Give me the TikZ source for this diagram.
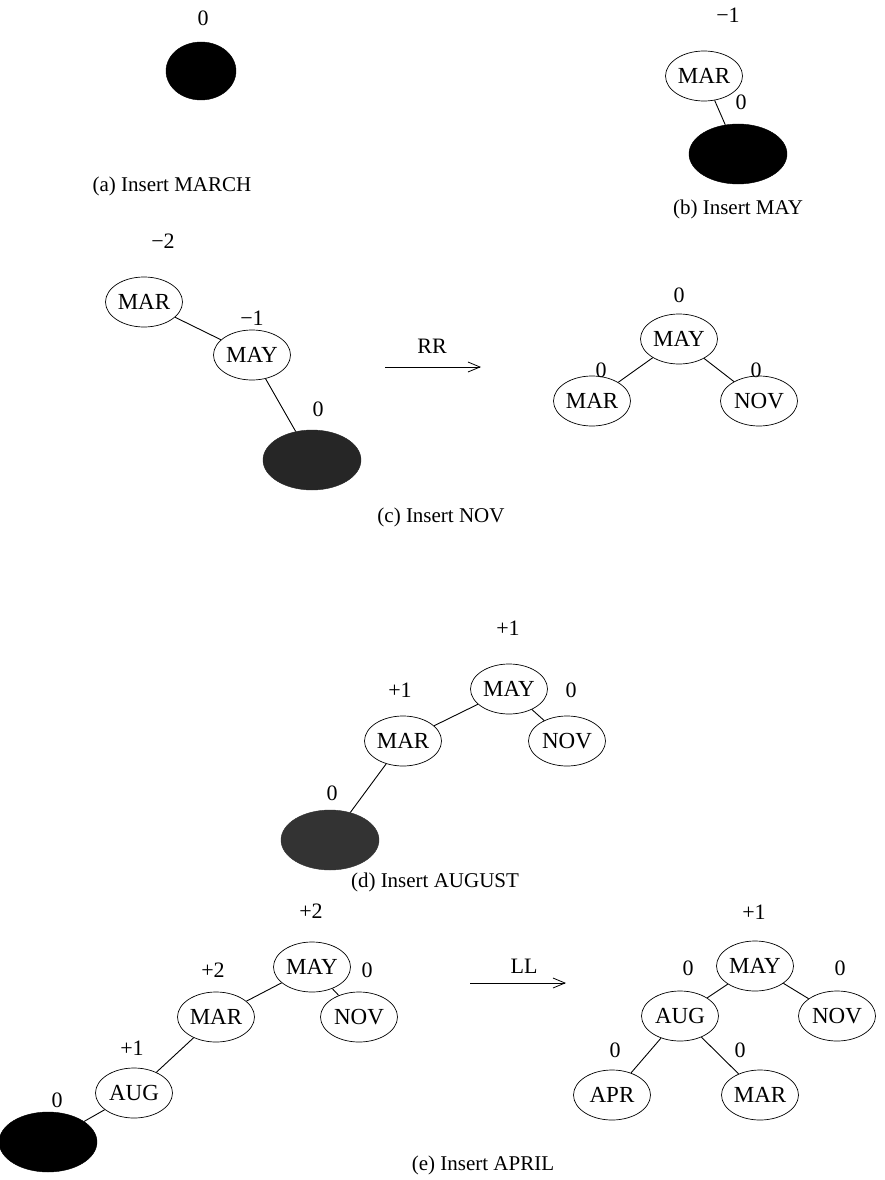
\documentclass[tikz,border=0pt]{standalone}
\usepackage{fontspec}
\setmainfont{Liberation Serif}
\usetikzlibrary{shapes.geometric,arrows.meta}
\begin{document}
\begin{tikzpicture}[x=1pt,y=-1pt,
  every node/.style={font=\fontsize{21}{25}\selectfont},
  kn/.style={ellipse,draw,line width=0.7pt,minimum width=77pt,minimum height=50pt,inner sep=0pt,font=\fontsize{23}{27}\selectfont},
  newkn/.style={ellipse,fill=#1,draw=#1,minimum width=98pt,minimum height=60pt,inner sep=0pt},
  bf/.style={inner sep=1pt,font=\fontsize{22}{26}\selectfont},
  edge/.style={line width=0.9pt},
  rot/.style={line width=0.8pt,-{Straight Barb[length=12pt,width=10pt,line width=0.8pt]}},
  captxt/.style={inner sep=1pt}]
\useasboundingbox (0,0) rectangle (885,1180);
% (a)
\node[bf] (a0) at (203,18) {0};
\node[newkn=black,minimum width=70pt,minimum height=58pt] (fa) at (201,71) {};
\node[captxt] (capa) at (172,186) {(a) Insert MARCH};
% (b)
\node[bf] (b1) at (728,15) {−1};
\node[kn] (bMAR) at (704,76) {MAR};
\node[bf] (b2) at (741,102) {0};
\node[newkn=black] (fb) at (738,154) {};
\draw[edge] (bMAR) -- (fb);
\node[captxt] (capb) at (738,209) {(b) Insert MAY};
% (c) left
\node[bf] (c1) at (163,241) {−2};
\node[kn] (cMAR) at (144,302) {MAR};
\node[bf] (c2) at (252,318) {−1};
\node[kn] (cMAY) at (252,355) {MAY};
\node[bf] (c3) at (318,409) {0};
\node[newkn=black!85] (fc) at (312,460) {};
\draw[edge] (cMAR) -- (cMAY);
\draw[edge] (cMAY) -- (fc);
\node[captxt] (capc) at (441,517) {(c) Insert NOV};
% RR
\coordinate (rrA) at (385,367);
\coordinate (rrB) at (481,367);
\draw[rot] (rrA) -- (rrB);
\node[bf] (rr) at (432,346) {RR};
% (c) right
\node[bf] (r1) at (679,295) {0};
\node[kn] (rMAY) at (679,339) {MAY};
\node[bf] (r2) at (601,370) {0};
\node[bf] (r3) at (756,370) {0};
\node[kn] (rMAR) at (592,401) {MAR};
\node[kn] (rNOV) at (759,401) {NOV};
\draw[edge] (rMAY) -- (rMAR);
\draw[edge] (rMAY) -- (rNOV);
% (d)
\node[bf] (d1) at (508,628) {+1};
\node[kn] (dMAY) at (509,689) {MAY};
\node[bf] (d2) at (400,690) {+1};
\node[bf] (d3) at (571,690) {0};
\node[kn] (dMAR) at (403,741) {MAR};
\node[kn] (dNOV) at (567,741) {NOV};
\node[bf] (d4) at (332,793) {0};
\node[newkn=black!80] (fd) at (330,840) {};
\draw[edge] (dMAY) -- (dMAR);
\draw[edge] (dMAY) -- (dNOV);
\draw[edge] (dMAR) -- (fd);
\node[captxt] (capd) at (435,882) {(d) Insert AUGUST};
% (e) left
\node[bf] (e1) at (311,911) {+2};
\node[kn] (eMAY) at (312,967) {MAY};
\node[bf] (e2) at (213,970) {+2};
\node[bf] (e3) at (367,970) {0};
\node[kn] (eMAR) at (216,1017) {MAR};
\node[kn] (eNOV) at (359,1017) {NOV};
\node[bf] (e4) at (132,1048) {+1};
\node[kn] (eAUG) at (134,1093) {AUG};
\node[bf] (e5) at (57,1100) {0};
\node[newkn=black] (fe) at (48,1142) {};
\draw[edge] (eMAY) -- (eMAR);
\draw[edge] (eMAY) -- (eNOV);
\draw[edge] (eMAR) -- (eAUG);
\draw[edge] (eAUG) -- (fe);
\node[captxt] (cape) at (483,1165) {(e) Insert APRIL};
% LL
\coordinate (llA) at (470,983);
\coordinate (llB) at (566,983);
\draw[rot] (llA) -- (llB);
\node[bf] (ll) at (524,966) {LL};
% (e) right
\node[bf] (s1) at (754,912) {+1};
\node[kn] (sMAY) at (755,966) {MAY};
\node[bf] (s2) at (688,968) {0};
\node[bf] (s3) at (840,968) {0};
\node[kn] (sAUG) at (680,1016) {AUG};
\node[kn] (sNOV) at (837,1016) {NOV};
\node[bf] (s4) at (615,1050) {0};
\node[bf] (s5) at (740,1050) {0};
\node[kn] (sAPR) at (612,1095) {APR};
\node[kn] (sMAR) at (760,1095) {MAR};
\draw[edge] (sMAY) -- (sAUG);
\draw[edge] (sMAY) -- (sNOV);
\draw[edge] (sAUG) -- (sAPR);
\draw[edge] (sAUG) -- (sMAR);
\end{tikzpicture}
\end{document}
